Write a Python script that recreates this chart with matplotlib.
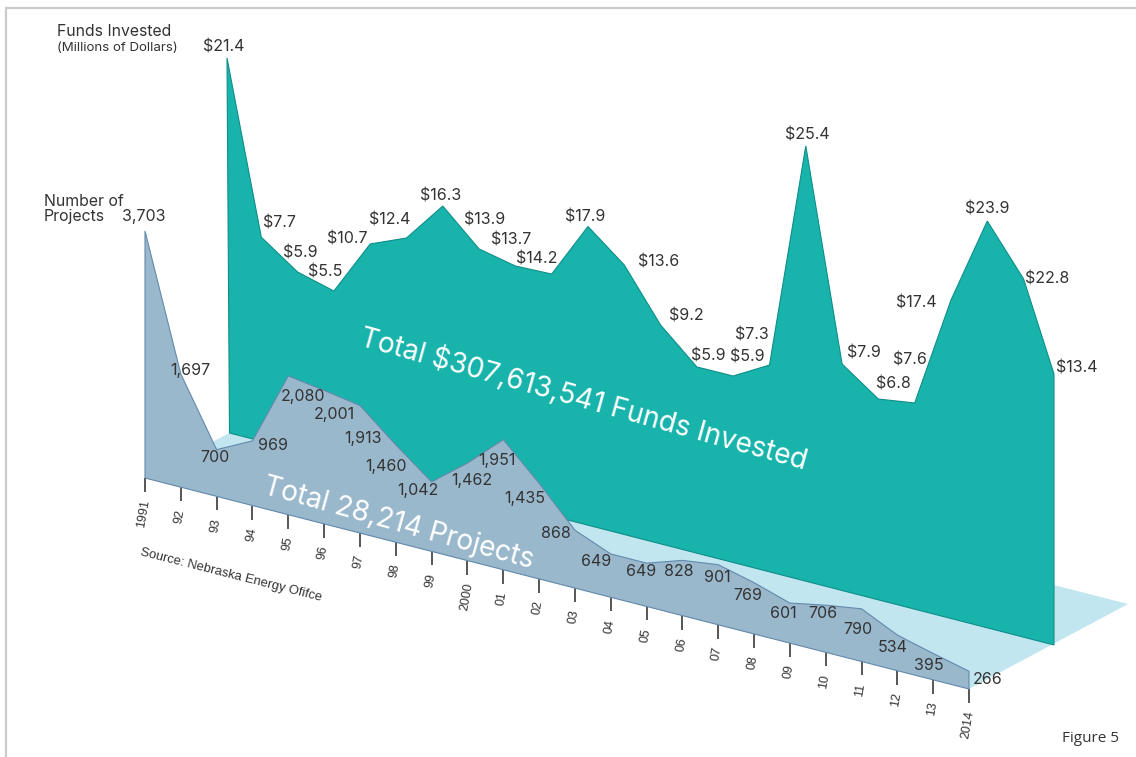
import numpy as np
import matplotlib
matplotlib.use("Agg")
import matplotlib.pyplot as plt
from matplotlib.transforms import Affine2D

years = list(range(1991, 2015))
year_labels = ["1991", "92", "93", "94", "95", "96", "97", "98", "99", "2000", "01", "02",
               "03", "04", "05", "06", "07", "08", "09", "10", "11", "12", "13", "2014"]
projects = [3703, 1697, 700, 969, 2080, 2001, 1913, 1460, 1042, 1462, 1951, 1435,
            868, 649, 649, 828, 901, 769, 601, 706, 790, 534, 395, 266]
funds = [21.4, 7.7, 5.9, 5.5, 10.7, 12.4, 16.3, 13.9, 13.7, 14.2, 17.9, 13.6,
         9.2, 5.9, 5.9, 7.3, 25.4, 7.9, 6.8, 7.6, 17.4, 23.9, 22.8, 13.4]
# The source's funds wall is not drawn to scale with its labels: heights
funds_drawn = [374.4, 204, 178.5, 168.8, 225.2, 240.5, 281.8, 248.2, 240.5, 241.8, 298.7, 269.5,
               218.8, 186.2, 186.5, 206.8, 435.2, 226.5, 200.8, 206.2, 318.5, 406.8, 358.2, 271]

# label centres on the page
project_label_x = [144, 190, 215, 273, 303, 334, 363, 386, 418, 472, 497, 525,
                   556, 596, 641, 679, 717, 748, 783, 823, 858, 893, 929, 988]
project_label_y = [217, 371, 457, 446, 396, 415, 439, 466, 491, 480, 461, 498,
                   534, 562, 572, 571, 577, 595, 614, 614, 630, 648, 666, 679]
fund_label_x = [224, 279, 300, 325, 347, 390, 441, 485, 511, 537, 585, 659,
                686, 708, 747, 752, 807, 864, 893, 910, 916, 987, 1047, 1077]
fund_label_y = [47, 223, 253, 272, 239, 220, 196, 220, 240, 259, 217, 262,
                316, 356, 357, 335, 135, 353, 384, 360, 303, 209, 279, 368]

TEAL, TEAL_EDGE = "#18B4AC", "#0E8E89"
SLATE, SLATE_EDGE = "#9AB8CC", "#6389AC"
FLOOR = "#C1E6F0"
INK = "#333333"
LABEL_SIZE = 11.5

plt.rcParams["font.family"] = ["Inter", "Liberation Sans", "DejaVu Sans"]
fig = plt.figure(figsize=(11.36, 7.57), dpi=100)
ax = fig.add_axes([0, 0, 1, 1])
ax.set_xlim(0, 1136)
ax.set_ylim(757, 0)
ax.axis("off")

yr = np.array(years, dtype=float)
STEP, DROP = 35.826, 9.174
X0, Y0 = 145.0, 478.0
PX_PER_PROJECT = 0.0667

# (year, count) -> page
proj_tf = Affine2D(np.array([[STEP, 0, X0 - 1991 * STEP],
                             [DROP, -PX_PER_PROJECT, Y0 - 1991 * DROP],
                             [0, 0, 1]])) + ax.transData
# (year, drawn height) -> page
F_STEP, F_DROP = 36.3, 9.333
fund_tf = Affine2D(np.array([[F_STEP, 0, 225 - 1991 * F_STEP],
                             [F_DROP, -1, 431.84 - 1991 * F_DROP],
                             [0, 0, 1]])) + ax.transData
# (year, depth) -> page
floor_tf = Affine2D(np.array([[STEP, 159, X0 - 1991 * STEP],
                              [DROP, -85, Y0 - 1991 * DROP],
                              [0, 0, 1]])) + ax.transData

# frame
ax.plot([6, 6, 1136], [757, 8, 8], color="#C9CBCD", lw=1.6, solid_joinstyle="miter", zorder=1)

# floor
ax.fill([1991, 2014, 2014, 1991], [0, 0, 1, 1], color=FLOOR, lw=0, transform=floor_tf, zorder=2)

# funds wall
fund_pos = np.clip(yr, 1991.055, 2013.837)
fx = np.r_[fund_pos, 2013.837, 1991.124]
fy = np.r_[funds_drawn, 0, 0]
ax.fill(fx, fy, facecolor=TEAL, edgecolor=TEAL_EDGE, lw=0.8, joinstyle="miter",
        transform=fund_tf, zorder=3)

# year ticks, under the projects wall
for y, lab in zip(yr, year_labels):
    bx, by = ax.transData.inverted().transform(proj_tf.transform((y, 0)))
    ax.plot([bx, bx], [by, by + 14], color="#3a3a3a", lw=1.2, zorder=4, solid_capstyle="butt")
    ax.text(bx - 1, by + 21, lab, rotation=80, ha="center", va="top",
            fontsize=9.0, color=INK, zorder=6, family=["Liberation Sans", "DejaVu Sans"])

# projects wall
ax.fill(np.r_[yr, 2014, 1991], np.r_[projects, 0, 0], facecolor=SLATE, edgecolor=SLATE_EDGE,
        lw=0.8, joinstyle="miter", transform=proj_tf, zorder=5)

# value labels
for v, x, y in zip(funds, fund_label_x, fund_label_y):
    ax.text(x, y, f"${v:.1f}", ha="center", va="center", fontsize=LABEL_SIZE, color=INK, zorder=7)
for v, x, y in zip(projects, project_label_x, project_label_y):
    ax.text(x, y, f"{v:,}", ha="center", va="center", fontsize=LABEL_SIZE, color=INK, zorder=7)

# headers
ax.text(57, 31, "Funds Invested", ha="left", va="center", fontsize=11.4, color=INK, zorder=7)
ax.text(57, 48, "(Millions of Dollars)", ha="left", va="center", fontsize=9.6, color=INK, zorder=7)
ax.text(44, 202, "Number of", ha="left", va="center", fontsize=11.4, color=INK, zorder=7)
ax.text(44, 217, "Projects", ha="left", va="center", fontsize=11.4, color=INK, zorder=7)

# totals
ax.text(584, 399, "Total $307,613,541 Funds Invested", rotation=-15.6, rotation_mode="anchor",
        ha="center", va="center", fontsize=20.2, color="white", zorder=7)
ax.text(398, 523, "Total 28,214 Projects", rotation=-15.6, rotation_mode="anchor",
        ha="center", va="center", fontsize=20.2, color="white", zorder=7)

# source / figure tag
ax.text(231, 575, "Source: Nebraska Energy Ofifce", rotation=-14.2, rotation_mode="anchor",
        ha="center", va="center", fontsize=9.4, color=INK, zorder=7,
        family=["Liberation Sans", "DejaVu Sans"])
ax.text(1090, 739, "Figure 5", ha="center", va="center", fontsize=11, color=INK,
        family=["Open Sans", "DejaVu Sans"], zorder=7)

fig.savefig("out.png", dpi=100)
